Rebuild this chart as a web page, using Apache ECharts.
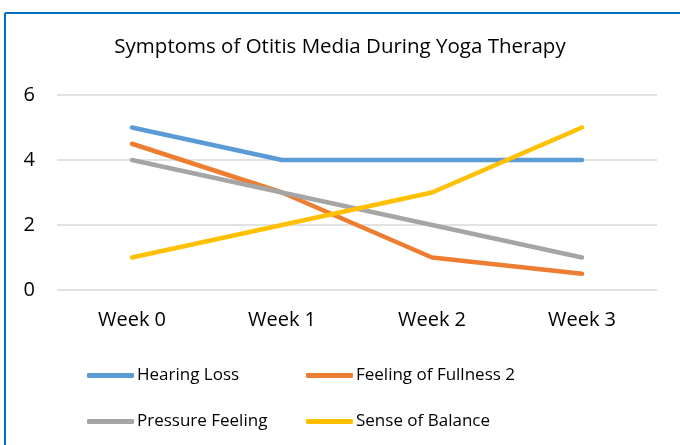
<!DOCTYPE html>
<html>
<head>
<meta charset="utf-8">
<script src="https://cdn.jsdelivr.net/npm/echarts@6/dist/echarts.min.js"></script>
<style>
html, body { margin: 0; padding: 0; background: #fff; }
#chart { width: 680px; height: 445px; }
</style>
</head>
<body>
<div id="chart"></div>
<script>
// data
var weeks = ['Week 0', 'Week 1', 'Week 2', 'Week 3'];
var hearingLoss = [5, 4, 4, 4];
var fullness = [4.5, 3, 1, 0.5];
var pressure = [4, 3, 2, 1];
var balance = [1, 2, 3, 5];
var seriesNames = ['Hearing Loss', 'Feeling of Fullness 2', 'Pressure Feeling', 'Sense of Balance'];
var colors = ['#5B9BD5', '#ED7D31', '#A5A5A5', '#FFC000'];

var font = 'Open Sans';

function mkSeries(name, data, color) {
    return {
        name: name,
        type: 'line',
        data: data,
        symbol: 'none',
        lineStyle: { width: 4.5, color: color, cap: 'round' },
        itemStyle: { color: color }
    };
}

function mkLegend(name, left, top) {
    return {
        data: [name],
        left: left,
        top: top,
        icon: 'roundRect',
        itemWidth: 47,
        itemHeight: 5,
        itemGap: 4,
        textStyle: { fontFamily: font, fontSize: 17, color: '#000', padding: [0, 0, 0, -2] }
    };
}

var chart = echarts.init(document.getElementById('chart'));
chart.setOption({
    animation: false,
    color: colors,
    title: {
        text: 'Symptoms of Otitis Media During Yoga Therapy',
        left: 'center',
        top: 32,
        textStyle: { fontFamily: font, fontSize: 20.5, fontWeight: 'normal', color: '#000' }
    },
    graphic: [
        { type: 'line', shape: { x1: 5, y1: 13, x2: 680, y2: 13 }, style: { stroke: '#0070C0', lineWidth: 2 } },
        { type: 'line', shape: { x1: 5, y1: 13, x2: 5, y2: 445 }, style: { stroke: '#0070C0', lineWidth: 2 } }
    ],
    legend: [
        mkLegend(seriesNames[0], 82, 362),
        mkLegend(seriesNames[1], 301, 362),
        mkLegend(seriesNames[2], 82, 408),
        mkLegend(seriesNames[3], 301, 408)
    ],
    grid: { left: 57, right: 23, top: 95, bottom: 155 },
    xAxis: {
        type: 'category',
        data: weeks,
        boundaryGap: true,
        axisLine: { show: false },
        axisTick: { show: false },
        axisLabel: { fontFamily: font, fontSize: 20, color: '#000', margin: 20 }
    },
    yAxis: {
        type: 'value',
        min: 0,
        max: 6,
        interval: 2,
        axisLine: { show: false },
        axisTick: { show: false },
        splitLine: { lineStyle: { color: '#D9D9D9', width: 1.5 } },
        axisLabel: { fontFamily: font, fontSize: 20, color: '#000', margin: 22 }
    },
    series: [
        mkSeries(seriesNames[0], hearingLoss, colors[0]),
        mkSeries(seriesNames[1], fullness, colors[1]),
        mkSeries(seriesNames[2], pressure, colors[2]),
        mkSeries(seriesNames[3], balance, colors[3])
    ]
});
</script>
</body>
</html>
